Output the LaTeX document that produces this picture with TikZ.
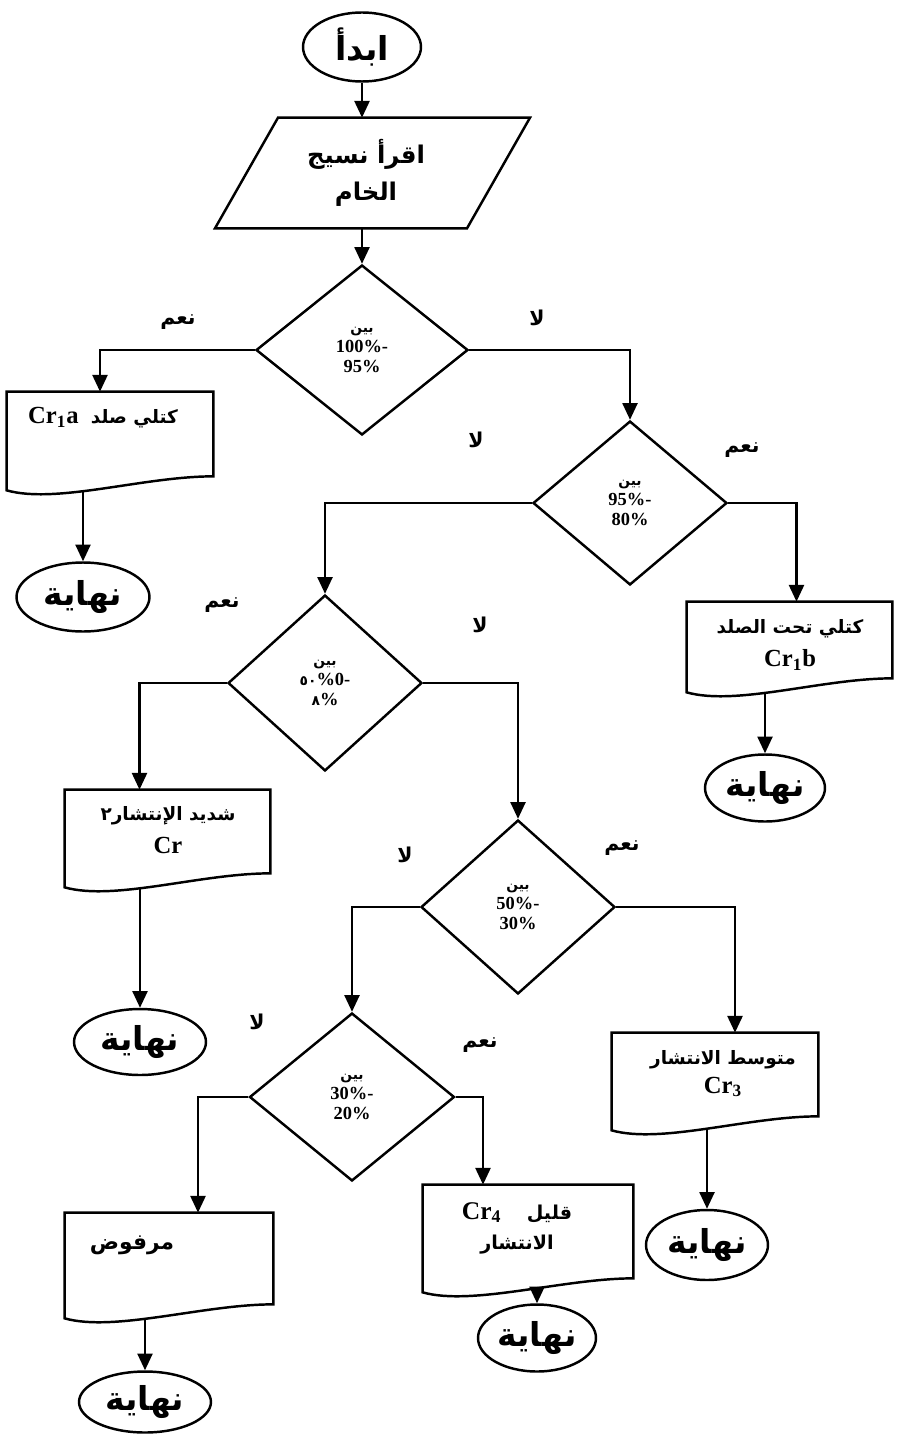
\documentclass[tikz,border=0pt]{standalone}
\usepackage{fontspec}
\setmainfont{Liberation Serif}
\newfontfamily\arabicfont[Script=Arabic, Scale=0.75]{DejaVu Sans}
\TeXXeTstate=1
\usetikzlibrary{shapes.geometric,arrows.meta,fit}
\newcommand{\artxt}[1]{{\arabicfont\bfseries\beginR #1\endR}}
% document outline with wavy bottom around a fit node
\newcommand{\docoutline}[1]{%
  \draw[shapeline] (#1.north west) -- (#1.north east) -- ([shift={(0,-14)}]#1.south east)
    .. controls ([shift={(-70,-14)}]#1.south east) and ([shift={(50,14)}]#1.south west) .. (#1.south west) -- cycle;}
\begin{document}
\begin{tikzpicture}[x=0.02cm, y=-0.02cm,
    shapeline/.style={line width=1.4pt},
    flow/.style={line width=1.4pt, -{Triangle[length=9.5pt,width=8.5pt]}},
    terminal/.style={ellipse, draw, line width=1.4pt, inner sep=0pt, font=\fontsize{25}{27}\selectfont},
    decision/.style={diamond, draw, line width=1.4pt, inner sep=0pt, align=center, font=\bfseries\fontsize{10.5}{11.5}\selectfont},
    docbox/.style={inner sep=0pt},
    doctext/.style={align=center, font=\bfseries\fontsize{14}{19}\selectfont},
    answer/.style={font=\fontsize{15.5}{17}\selectfont}]
  \useasboundingbox (0,0) rectangle (900,1436);

  % Start
  \node[terminal, minimum width=2.36cm, minimum height=1.38cm] (start) at (362,47) {\artxt{ابدأ}};

  % Read raw fabric
  \node[minimum height=2.2cm, inner sep=0pt, align=center, font=\fontsize{18.5}{21}\selectfont] (read) at (366,173) {\artxt{اقرأ نسيج}\\\artxt{الخام}};
  \draw[shapeline] ([shift={(-88,0)}]read.north) -- ([shift={(164,0)}]read.north)
    -- ([shift={(101,0)}]read.south) -- ([shift={(-151,0)}]read.south) -- cycle;

  % Decisions
  \node[decision, minimum width=4.24cm, minimum height=3.4cm] (d1) at (362,350) {\artxt{بين}\\100\%-\\95\%};
  \node[decision, minimum width=3.88cm, minimum height=3.28cm] (d2) at (630,503) {\artxt{بين}\\95\%-\\80\%};
  \node[decision, minimum width=3.88cm, minimum height=3.52cm] (d3) at (325,683) {\artxt{بين}\\{\arabicfont ٥٠}\%0-\\{\arabicfont ٨}\%};
  \node[decision, minimum width=3.88cm, minimum height=3.48cm] (d4) at (518,907) {\artxt{بين}\\50\%-\\30\%};
  \node[decision, minimum width=4.1cm, minimum height=3.36cm] (d5) at (352,1097) {\artxt{بين}\\30\%-\\20\%};

  % Documents
  \node[docbox, fit={(7,392) (213,490)}] (cr1a) {};
  \docoutline{cr1a}
  \node[doctext] (cr1a-txt) at (103,418) {Cr\textsubscript{1}a\ \ \artxt{كتلي صلد}};

  \node[docbox, fit={(687,602) (892,692)}] (cr1b) {};
  \docoutline{cr1b}
  \node[doctext] (cr1b-txt) at (790,645) {\artxt{كتلي تحت الصلد}\\Cr\textsubscript{1}b};

  \node[docbox, fit={(65,790) (270,887)}] (cr2) {};
  \docoutline{cr2}
  \node[doctext] (cr2-txt) at (168,830) {\artxt{شديد الإنتشار٢}\\Cr};

  \node[docbox, fit={(612,1033) (818,1130)}] (cr3) {};
  \docoutline{cr3}
  \node[doctext, font=\bfseries\fontsize{14}{16}\selectfont] (cr3-txt) at (723,1074) {\artxt{متوسط الانتشار}\\Cr\textsubscript{3}};

  \node[docbox, fit={(423,1185) (633,1292)}] (cr4) {};
  \docoutline{cr4}
  \node[doctext, font=\bfseries\fontsize{14.5}{17}\selectfont] (cr4-txt) at (517,1228) {Cr\textsubscript{4}\quad\artxt{قليل}\\\artxt{الانتشار}};

  \node[docbox, fit={(65,1213) (273,1318)}] (rej) {};
  \docoutline{rej}
  \node[doctext, font=\bfseries\fontsize{16.5}{19}\selectfont] (rej-txt) at (132,1245) {\artxt{مرفوض}};

  % Ends
  \node[terminal, minimum width=2.66cm, minimum height=1.38cm] (e1) at (83,597) {\artxt{نهاية}};
  \node[terminal, minimum width=2.4cm, minimum height=1.34cm] (e2) at (765,788) {\artxt{نهاية}};
  \node[terminal, minimum width=2.64cm, minimum height=1.32cm] (e3) at (140,1042) {\artxt{نهاية}};
  \node[terminal, minimum width=2.44cm, minimum height=1.4cm] (e4) at (707,1245) {\artxt{نهاية}};
  \node[terminal, minimum width=2.36cm, minimum height=1.34cm] (e5) at (537,1338) {\artxt{نهاية}};
  \node[terminal, minimum width=2.64cm, minimum height=1.22cm] (e6) at (145,1402) {\artxt{نهاية}};

  % Flow
  \draw[flow] (start) -- (start |- read.north);
  \draw[flow] (d1 |- read.south) -- (d1);
  \draw[flow] (d1.west) -| ([shift={(-10,0)}]cr1a.north);
  \draw[flow] (d1.east) -| (d2.north);
  \draw[flow] (d2.east) -| ([shift={(7,0)}]cr1b.north);
  \draw[flow] (d2.west) -| (d3.north);
  \draw[flow] (d3.west) -| ([shift={(-28,0)}]cr2.north);
  \draw[flow] (d3.east) -| (d4.north);
  \draw[flow] (d4.east) -| ([shift={(20,0)}]cr3.north);
  \draw[flow] (d4.west) -| (d5.north);
  \draw[flow] (d5.west) -| ([shift={(29,0)}]rej.north);
  \draw[flow] (d5.east) -| ([shift={(-45,0)}]cr4.north);

  \draw[flow] (e1 |- cr1a.south) -- (e1);
  \draw[flow] (e2 |- cr1b.south) -- (e2);
  \draw[flow] (e3 |- cr2.south) -- (e3);
  \draw[flow] (e4 |- cr3.south) -- (e4);
  \draw[flow] (e5 |- cr4.south) -- (e5);
  \draw[flow] (e6 |- rej.south) -- (e6);

  % Yes / no labels
  \node[answer] (y1) at (178,322) {\artxt{نعم}};
  \node[answer] (n1) at (537,318) {\artxt{لا}};
  \node[answer] (n2) at (476,440) {\artxt{لا}};
  \node[answer] (y2) at (742,450) {\artxt{نعم}};
  \node[answer] (y3) at (222,605) {\artxt{نعم}};
  \node[answer] (n3) at (480,625) {\artxt{لا}};
  \node[answer] (n4) at (405,855) {\artxt{لا}};
  \node[answer] (y4) at (622,848) {\artxt{نعم}};
  \node[answer] (n5) at (257,1022) {\artxt{لا}};
  \node[answer] (y5) at (480,1045) {\artxt{نعم}};
\end{tikzpicture}
\end{document}
